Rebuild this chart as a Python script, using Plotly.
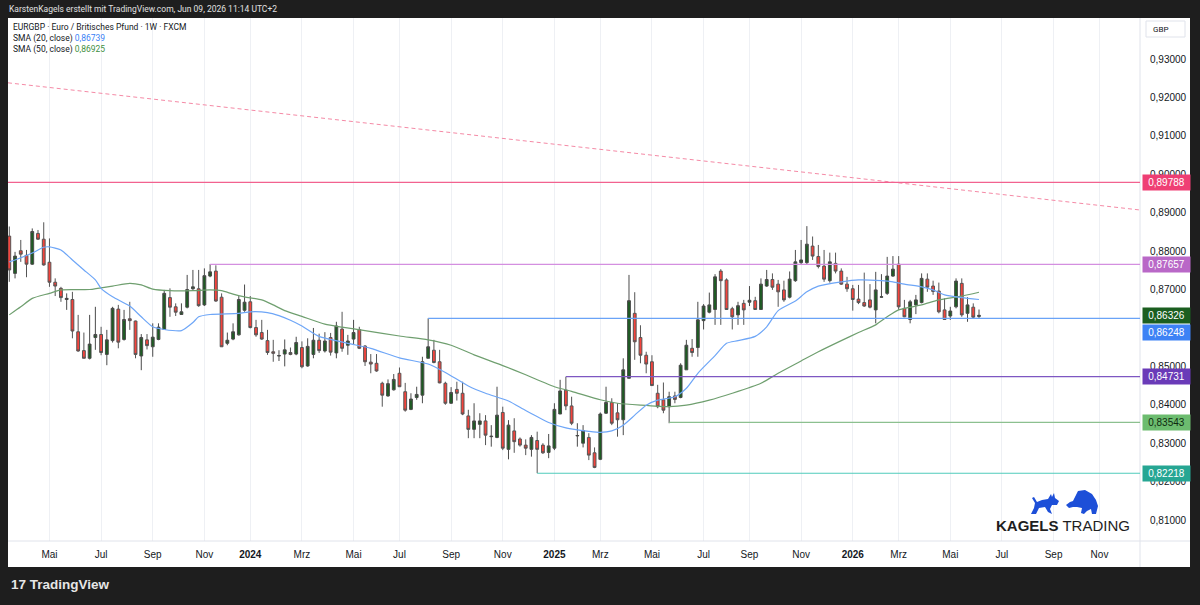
import plotly.graph_objects as go
import pandas as pd

# ---------------- data ----------------
FIRST_WEEK = "2023-03-13"

opens = [
    .8839, .8742, .8801, .8789, .8766, .8846, .8831, .8771, .8719, .8703,
    .8674, .8674, .8590, .8541, .8521, .8575, .8583, .8531, .8567, .8649,
    .8570, .8624, .8618, .8527, .8569, .8551, .8570, .8596, .8679, .8655,
    .8635, .8654, .8702, .8702, .8660, .8735, .8748, .8680, .8560, .8571,
    .8582, .8646, .8668, .8601, .8588, .8567, .8538, .8527, .8532, .8536,
    .8532, .8549, .8501, .8531, .8568, .8540, .8575, .8535, .8597, .8555,
    .8571, .8596, .8553, .8511, .8508, .8456, .8423, .8439, .8482, .8434,
    .8388, .8419, .8425, .8521, .8542, .8512, .8456, .8404, .8440, .8430,
    .8371, .8336, .8349, .8358, .8317, .8315, .8380, .8284, .8332, .8311,
    .8295, .8284, .8307, .8295, .8276, .8287, .8376, .8438, .8397, .8319,
    .8300, .8315, .8275, .8258, .8378, .8406, .8379, .8361, .8469, .8638,
    .8575, .8529, .8512, .8430, .8413, .8395, .8423, .8419, .8491, .8547,
    .8549, .8619, .8641, .8648, .8748, .8725, .8650, .8634, .8664, .8667,
    .8671, .8648, .8709, .8726, .8714, .8699, .8680, .8723, .8770, .8770,
    .8813, .8786, .8761, .8723, .8768, .8748, .8714, .8702, .8675, .8666,
    .8673, .8647, .8680, .8690, .8735, .8766, .8651, .8622, .8660, .8666,
    .8727, .8709, .8696, .8647, .8631, .8655, .8716, .8638, .8654, .8630,
]
highs = [
    .8864, .8798, .8829, .8803, .8859, .8855, .8875, .8833, .8729, .8707,
    .8690, .8694, .8634, .8588, .8634, .8655, .8603, .8595, .8655, .8660,
    .8647, .8668, .8619, .8584, .8584, .8612, .8612, .8699, .8703, .8664,
    .8664, .8738, .8751, .8751, .8755, .8766, .8763, .8690, .8588, .8612,
    .8683, .8713, .8683, .8621, .8621, .8595, .8569, .8542, .8570, .8549,
    .8577, .8565, .8573, .8600, .8585, .8589, .8587, .8616, .8642, .8582,
    .8621, .8603, .8555, .8532, .8532, .8460, .8466, .8480, .8497, .8457,
    .8430, .8447, .8525, .8625, .8569, .8543, .8460, .8446, .8460, .8460,
    .8387, .8404, .8378, .8373, .8347, .8447, .8395, .8360, .8365, .8315,
    .8310, .8321, .8330, .8300, .8324, .8404, .8465, .8473, .8421, .8352,
    .8347, .8326, .8289, .8380, .8447, .8417, .8404, .8521, .8738, .8693,
    .8607, .8538, .8529, .8452, .8458, .8434, .8434, .8508, .8569, .8571,
    .8668, .8662, .8692, .8740, .8753, .8729, .8655, .8668, .8673, .8709,
    .8681, .8729, .8751, .8742, .8725, .8723, .8747, .8803, .8829, .8865,
    .8838, .8816, .8803, .8796, .8796, .8755, .8733, .8712, .8712, .8744,
    .8714, .8746, .8740, .8785, .8787, .8787, .8673, .8673, .8686, .8742,
    .8742, .8723, .8718, .8677, .8655, .8729, .8729, .8680, .8664, .8648,
]
lows = [
    .8720, .8729, .8772, .8732, .8764, .8829, .8762, .8707, .8683, .8668,
    .8647, .8573, .8538, .8521, .8518, .8543, .8529, .8503, .8562, .8547,
    .8567, .8595, .8521, .8490, .8544, .8525, .8568, .8595, .8629, .8631,
    .8634, .8651, .8699, .8655, .8657, .8732, .8668, .8551, .8555, .8568,
    .8580, .8642, .8599, .8577, .8569, .8530, .8512, .8514, .8500, .8529,
    .8529, .8495, .8499, .8521, .8535, .8536, .8528, .8521, .8538, .8530,
    .8556, .8545, .8501, .8482, .8486, .8395, .8421, .8437, .8447, .8382,
    .8386, .8413, .8404, .8521, .8508, .8456, .8400, .8402, .8411, .8373,
    .8313, .8313, .8313, .8295, .8291, .8313, .8282, .8258, .8275, .8291,
    .8269, .8265, .8222, .8272, .8261, .8282, .8376, .8386, .8347, .8291,
    .8289, .8256, .8235, .8256, .8376, .8347, .8317, .8321, .8469, .8517,
    .8508, .8482, .8450, .8391, .8378, .8352, .8404, .8417, .8491, .8525,
    .8525, .8596, .8638, .8608, .8608, .8648, .8596, .8608, .8608, .8657,
    .8647, .8647, .8707, .8699, .8655, .8668, .8677, .8720, .8764, .8764,
    .8777, .8755, .8720, .8718, .8742, .8712, .8694, .8645, .8662, .8655,
    .8651, .8612, .8679, .8686, .8733, .8647, .8628, .8612, .8636, .8664,
    .8694, .8686, .8638, .8621, .8621, .8651, .8629, .8616, .8625, .8624,
]
closes = [
    .8751, .8787, .8792, .8766, .8851, .8831, .8764, .8719, .8709, .8679,
    .8677, .8592, .8540, .8521, .8558, .8583, .8536, .8569, .8651, .8563,
    .8622, .8619, .8531, .8575, .8554, .8576, .8602, .8690, .8654, .8641,
    .8642, .8700, .8707, .8658, .8736, .8746, .8670, .8551, .8568, .8590,
    .8674, .8667, .8601, .8582, .8571, .8536, .8534, .8528, .8543, .8531,
    .8562, .8499, .8552, .8568, .8541, .8566, .8537, .8605, .8547, .8566,
    .8588, .8547, .8512, .8506, .8488, .8425, .8455, .8466, .8447, .8386,
    .8415, .8427, .8512, .8551, .8510, .8457, .8404, .8432, .8430, .8376,
    .8336, .8358, .8358, .8321, .8318, .8373, .8287, .8347, .8304, .8295,
    .8287, .8315, .8284, .8275, .8293, .8388, .8436, .8397, .8352, .8320,
    .8333, .8269, .8237, .8376, .8406, .8352, .8361, .8491, .8671, .8564,
    .8529, .8506, .8450, .8395, .8386, .8421, .8414, .8503, .8555, .8536,
    .8621, .8657, .8660, .8733, .8723, .8648, .8629, .8658, .8647, .8672,
    .8648, .8714, .8726, .8706, .8694, .8673, .8727, .8772, .8777, .8818,
    .8787, .8760, .8727, .8772, .8748, .8714, .8702, .8674, .8666, .8657,
    .8654, .8699, .8681, .8735, .8753, .8655, .8629, .8668, .8673, .8729,
    .8706, .8695, .8642, .8622, .8644, .8722, .8634, .8660, .8628, .86326,
]

# SMA lines (candle index -> value)
sma20_idx = [0, 1, 4, 6, 7, 9, 11, 13, 15, 16, 18, 21, 23, 25, 27, 30, 32, 33, 35, 40,
             42, 45, 47, 49, 51, 54, 59, 63, 68, 73, 76, 80, 83, 87, 90, 94, 97, 101, 103, 105,
             107, 109, 111, 113, 116, 118, 120, 123, 125, 127, 130, 132, 134, 137, 139, 141, 145, 148, 152, 154,
             156, 159, 161, 163, 166, 169]
sma20_val = [.8772, .8777, .8795, .8810, .8811, .8803, .8777, .8751, .8725, .8703,
             .8681, .8657, .8629, .8603, .8596, .8593, .8614, .8629, .8635, .8638,
             .8642, .8640, .8632, .8620, .8605, .8578, .8560, .8547, .8522, .8506,
             .8484, .8449, .8430, .8410, .8385, .8354, .8340, .8331, .8328, .8332,
             .8347, .8373, .8399, .8412, .8421, .8443, .8482, .8528, .8560, .8567,
             .8578, .8603, .8645, .8670, .8694, .8709, .8720, .8725, .8723, .8720,
             .8714, .8707, .8699, .8686, .8679, .8674]
sma50_idx = [0, 2, 4, 7, 9, 14, 18, 21, 23, 25, 28, 32, 35, 37, 39, 41, 44, 46, 48, 51,
             55, 58, 62, 68, 73, 77, 81, 86, 90, 95, 98, 103, 106, 110, 115, 118, 122, 126, 131, 134,
             138, 141, 145, 148, 151, 153, 155, 159, 162, 166, 169]
sma50_val = [.8634, .8655, .8677, .8690, .8699, .8700, .8709, .8716, .8712, .8701,
             .8697, .8697, .8699, .8697, .8688, .8681, .8673, .8660, .8645, .8630,
             .8610, .8602, .8593, .8579, .8569, .8555, .8530, .8502, .8478, .8447,
             .8435, .8413, .8404, .8399, .8395, .8399, .8412, .8430, .8456, .8482,
             .8514, .8538, .8567, .8588, .8608, .8629, .8647, .8660, .8673, .8683,
             .8693]

sma20_last = 0.86739
sma50_last = 0.86925
last_price = 0.86326

# horizontal levels: value, start candle (None = whole width)
level_values = [0.89788, 0.87657, 0.86248, 0.84731, 0.83543, 0.82218]
level_start_idx = [None, 35, 73, 97, 115, 92]
level_line_colors = ["#f2628f", "#d48fe0", "#6aa3f7", "#7e57c2", "#8cc08f", "#4fcbbb"]
level_label_colors = ["#ef3f74", "#b968c7", "#3d82f5", "#6a3bb8", "#6cbc6f", "#26a693"]
level_text_colors = ["#ffffff", "#ffffff", "#ffffff", "#ffffff", "#0f2a10", "#ffffff"]
level_label_shift = [0, 0, -14, 0, 0, 0]

trend_start = 0.9238
trend_end = 0.8907

# 0,86000 is completely hidden behind the price labels in the reference
y_ticks = [0.81, 0.82, 0.83, 0.84, 0.85, 0.87, 0.88, 0.89, 0.90, 0.91, 0.92, 0.93]
tick_dates = ["2023-05-01", "2023-07-03", "2023-09-04", "2023-11-06", "2024-01-01", "2024-03-04",
              "2024-05-06", "2024-07-01", "2024-09-02", "2024-11-04", "2025-01-06", "2025-03-03",
              "2025-05-05", "2025-07-07", "2025-09-01", "2025-11-03", "2026-01-05", "2026-03-02",
              "2026-05-04", "2026-07-06", "2026-09-07", "2026-11-02"]
tick_labels = ["Mai", "Jul", "Sep", "Nov", "<b>2024</b>", "Mrz", "Mai", "Jul", "Sep", "Nov",
               "<b>2025</b>", "Mrz", "Mai", "Jul", "Sep", "Nov", "<b>2026</b>", "Mrz", "Mai",
               "Jul", "Sep", "Nov"]

X_RANGE = ["2023-03-11 10:00", "2026-12-21 10:00"]
Y_RANGE = [0.804544, 0.940672]

# ---------------- figure ----------------
W, H = 1200, 605
L, R, T, B = 8, 1140, 18, 541
FONT = "Liberation Sans"
SMALL_FONT = "Roboto"


def pxx(x):
    return (x - L) / (R - L)


def pxy(y):
    return (B - y) / (B - T)


dates = pd.date_range(FIRST_WEEK, periods=len(opens), freq="7D")

fig = go.Figure()

fig.add_trace(go.Scatter(
    x=[dates[i] for i in sma50_idx], y=sma50_val, mode="lines",
    line=dict(color="#6f9f6f", width=1.2, shape="spline", smoothing=0.6),
    hoverinfo="skip", showlegend=False))
fig.add_trace(go.Scatter(
    x=[dates[i] for i in sma20_idx], y=sma20_val, mode="lines",
    line=dict(color="#6ea6f7", width=1.2, shape="spline", smoothing=0.6),
    hoverinfo="skip", showlegend=False))

fig.add_trace(go.Candlestick(
    x=dates, open=opens, high=highs, low=lows, close=closes,
    increasing=dict(fillcolor="#1d5c22", line=dict(color="#4a4a4a", width=1)),
    decreasing=dict(fillcolor="#f4433c", line=dict(color="#555555", width=1)),
    whiskerwidth=0, showlegend=False, hoverinfo="skip"))

shapes = []
# white chart panel (plot + axes area)
shapes.append(dict(type="rect", xref="paper", yref="paper", x0=0, x1=pxx(1190),
                   y0=pxy(567), y1=1, fillcolor="white", line=dict(width=0), layer="below"))
# separators
shapes.append(dict(type="line", xref="paper", yref="paper", x0=1, x1=1, y0=pxy(567), y1=1,
                   line=dict(color="#e0e3eb", width=1)))
shapes.append(dict(type="line", xref="paper", yref="paper", x0=0, x1=pxx(1190), y0=0, y1=0,
                   line=dict(color="#e0e3eb", width=1)))

# trend line (dashed)
shapes.append(dict(type="line", xref="paper", yref="y", x0=0, x1=1, y0=trend_start, y1=trend_end,
                   line=dict(color="#f58aa6", width=1, dash="4px,3px")))

# horizontal levels
for val, idx, col in zip(level_values, level_start_idx, level_line_colors):
    if idx is None:
        shapes.append(dict(type="line", xref="paper", yref="y", x0=0, x1=1, y0=val, y1=val,
                           line=dict(color=col, width=1.2)))
    else:
        shapes.append(dict(type="line", xref="x", yref="y", x0=dates[idx], x1=X_RANGE[1],
                           y0=val, y1=val, line=dict(color=col, width=1.2)))

# GBP box
shapes.append(dict(type="rect", xref="paper", yref="paper", x0=pxx(1146), x1=pxx(1185),
                   y0=pxy(37), y1=pxy(21), line=dict(color="#e0e3eb", width=1), fillcolor="white"))


# bull & bear logo silhouettes
def path_from(points):
    s = "M " + " L ".join(f"{pxx(x):.5f},{pxy(y):.5f}" for x, y in points) + " Z"
    return s


bull = [(1031, 514), (1034, 508), (1035, 503), (1032, 498), (1034, 497), (1037, 502), (1042, 500),
        (1048, 499), (1051, 494), (1052, 497), (1054, 493), (1055, 498), (1059, 501), (1057, 505),
        (1052, 505), (1050, 509), (1052, 514), (1048, 512), (1045, 507), (1039, 508), (1036, 514)]
bear = [(1066, 505), (1070, 502), (1073, 501), (1076, 495), (1078, 491), (1085, 490), (1092, 494),
        (1096, 500), (1098, 506), (1096, 514), (1092, 514), (1091, 509), (1087, 511), (1084, 514),
        (1081, 513), (1082, 508), (1077, 507), (1073, 507), (1069, 508)]
for poly in (bull, bear):
    shapes.append(dict(type="path", xref="paper", yref="paper", path=path_from(poly),
                       fillcolor="#1d4fd8", line=dict(width=0)))

annotations = []
# header
annotations.append(dict(xref="paper", yref="paper", x=pxx(7), y=pxy(9), xanchor="left", yanchor="middle",
                        text="KarstenKagels erstellt mit TradingView.com, Jun 09, 2026 11:14 UTC+2",
                        showarrow=False, font=dict(family=SMALL_FONT, size=8.5, color="#e0e0e0")))
# legend
annotations.append(dict(xref="paper", yref="paper", x=pxx(11), y=pxy(27), xanchor="left", yanchor="middle",
                        text="EURGBP · Euro / Britisches Pfund · 1W · FXCM",
                        showarrow=False, font=dict(family=SMALL_FONT, size=8.5, color="#131722")))
annotations.append(dict(xref="paper", yref="paper", x=pxx(11), y=pxy(38), xanchor="left", yanchor="middle",
                        text="SMA (20, close) <span style='color:#3b82f6'>" + f"{sma20_last:.5f}".replace(".", ",") + "</span>",
                        showarrow=False, font=dict(family=SMALL_FONT, size=8.5, color="#131722")))
annotations.append(dict(xref="paper", yref="paper", x=pxx(11), y=pxy(49), xanchor="left", yanchor="middle",
                        text="SMA (50, close) <span style='color:#3f8f43'>" + f"{sma50_last:.5f}".replace(".", ",") + "</span>",
                        showarrow=False, font=dict(family=SMALL_FONT, size=8.5, color="#131722")))
# GBP
annotations.append(dict(xref="paper", yref="paper", x=pxx(1151), y=pxy(29), xanchor="left", yanchor="middle",
                        text="GBP", showarrow=False, font=dict(family=SMALL_FONT, size=8, color="#131722")))

# price labels on the right axis
for val, bg, tc, sh in zip(level_values, level_label_colors, level_text_colors, level_label_shift):
    annotations.append(dict(xref="paper", yref="y", x=pxx(1142), y=val, xanchor="left", yanchor="middle",
                            yshift=sh, text=f"{val:.5f}".replace(".", ","), showarrow=False,
                            bgcolor=bg, borderpad=2, width=43,
                            font=dict(family=FONT, size=10, color=tc)))
annotations.append(dict(xref="paper", yref="y", x=pxx(1142), y=last_price, xanchor="left", yanchor="middle",
                        text=f"{last_price:.5f}".replace(".", ","), showarrow=False,
                        bgcolor="#1b5e20", borderpad=2, width=43,
                        font=dict(family=FONT, size=10, color="#ffffff")))

# Kagels Trading logo text
annotations.append(dict(xref="paper", yref="paper", x=pxx(1063), y=pxy(525), xanchor="center", yanchor="middle",
                        text="<b>KAGELS</b> TRADING", showarrow=False,
                        font=dict(family=FONT, size=15, color="#1e1e1e")))
# TradingView footer
annotations.append(dict(xref="paper", yref="paper", x=pxx(9), y=pxy(584), xanchor="left", yanchor="middle",
                        text="<b>17</b> <b>TradingView</b>", showarrow=False,
                        font=dict(family=FONT, size=13.5, color="#e6e6e6")))

fig.update_layout(
    width=W, height=H, autosize=False,
    margin=dict(l=L, r=W - R, t=T, b=H - B, pad=0),
    paper_bgcolor="#1e1e1e", plot_bgcolor="white",
    separators=",.",
    showlegend=False,
    shapes=shapes, annotations=annotations,
    xaxis=dict(type="date", range=X_RANGE, rangeslider=dict(visible=False),
               tickvals=tick_dates, ticktext=tick_labels,
               showgrid=True, gridcolor="#eef0f4", gridwidth=1,
               ticks="outside", ticklen=4, tickcolor="rgba(0,0,0,0)",
               tickfont=dict(family=FONT, size=10, color="#131722"),
               showline=False, zeroline=False, fixedrange=True),
    yaxis=dict(range=Y_RANGE, side="right", tickvals=y_ticks, tickformat=".5f",
               showgrid=False, zeroline=False, showline=False,
               ticks="outside", ticklen=7, tickcolor="rgba(0,0,0,0)",
               tickfont=dict(family=FONT, size=10, color="#131722"), fixedrange=True),
    hovermode=False,
)

fig.write_html("out.html", config={"displayModeBar": False})
